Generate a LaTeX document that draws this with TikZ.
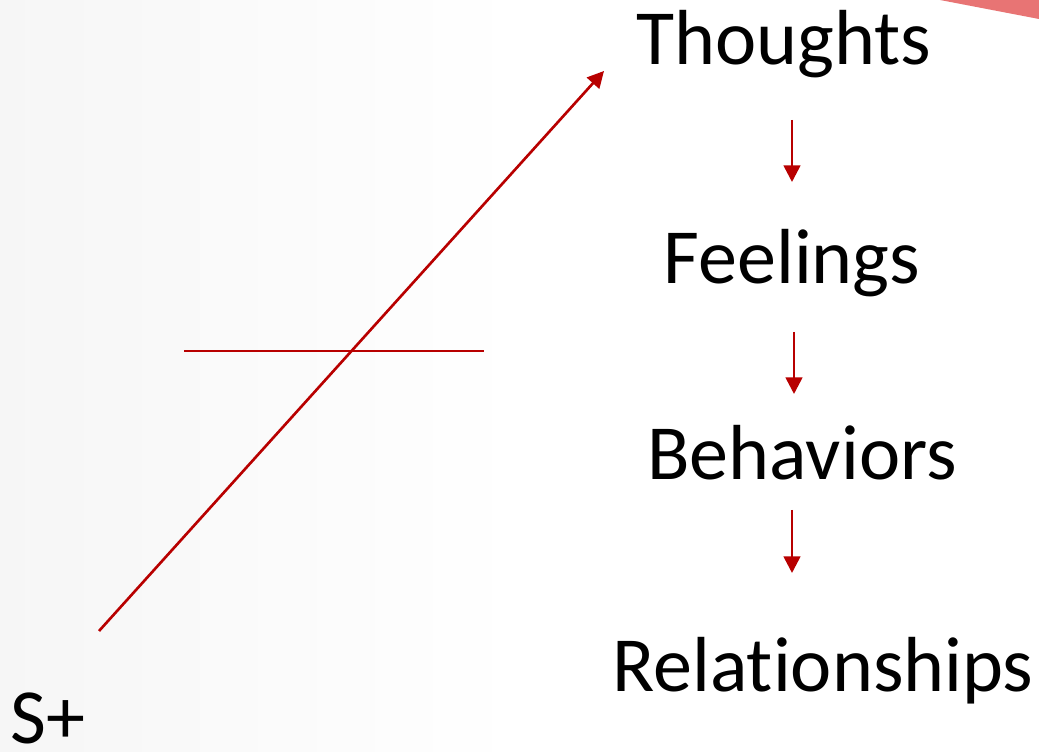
\documentclass[tikz,border=0pt]{standalone}
\usepackage{fontspec}
\setmainfont[Ligatures={NoCommon}]{Carlito}
\usetikzlibrary{arrows.meta}
\definecolor{darkred}{HTML}{B80000}
\definecolor{corner}{HTML}{E87474}
\begin{document}
\begin{tikzpicture}[x=0.01cm,y=-0.01cm,
  word/.style={anchor=base,inner sep=0pt,font=\fontsize{22.2pt}{26pt}\selectfont},
  link/.style={draw=darkred,line width=0.75pt,-{Triangle[width=0.165cm,length=0.165cm]}},
  bar/.style={draw=darkred,line width=0.7pt}]
  % page and background shading
  \useasboundingbox (0,0) rectangle (1039,752);
  \fill[white] (0,0) rectangle (1039,752);
  \shade[left color=black!3.5,right color=white] (0,0) rectangle (520,752);
  \fill[corner] (940,0) -- (1039,0) -- (1039,19) -- cycle;

  % chain of words
  \node[word] (thoughts) at (784,65) {Thoughts};
  \node[word] (feelings) at (792,284) {Feelings};
  \node[word] (behaviors) at (802,480) {Behaviors};
  \node[word] (relationships) at (823,692) {Relationships};
  \node[word,text depth=0pt] (splus) at (48,743) {S+};

  % downward arrows between the words
  \coordinate (a1) at (792,120); \coordinate (b1) at (792,182);
  \coordinate (a2) at (794,332); \coordinate (b2) at (794,394);
  \coordinate (a3) at (792,510); \coordinate (b3) at (792,573);
  \draw[link] (a1) -- (b1);
  \draw[link] (a2) -- (b2);
  \draw[link] (a3) -- (b3);

  % long diagonal arrow and crossing bar
  \coordinate (start) at (99,631);
  \coordinate (tip) at (604,71);
  \draw[link] (start) -- (tip);
  \coordinate (barl) at (184,351);
  \coordinate (barr) at (484,351);
  \draw[bar] (barl) -- (barr);
\end{tikzpicture}
\end{document}
